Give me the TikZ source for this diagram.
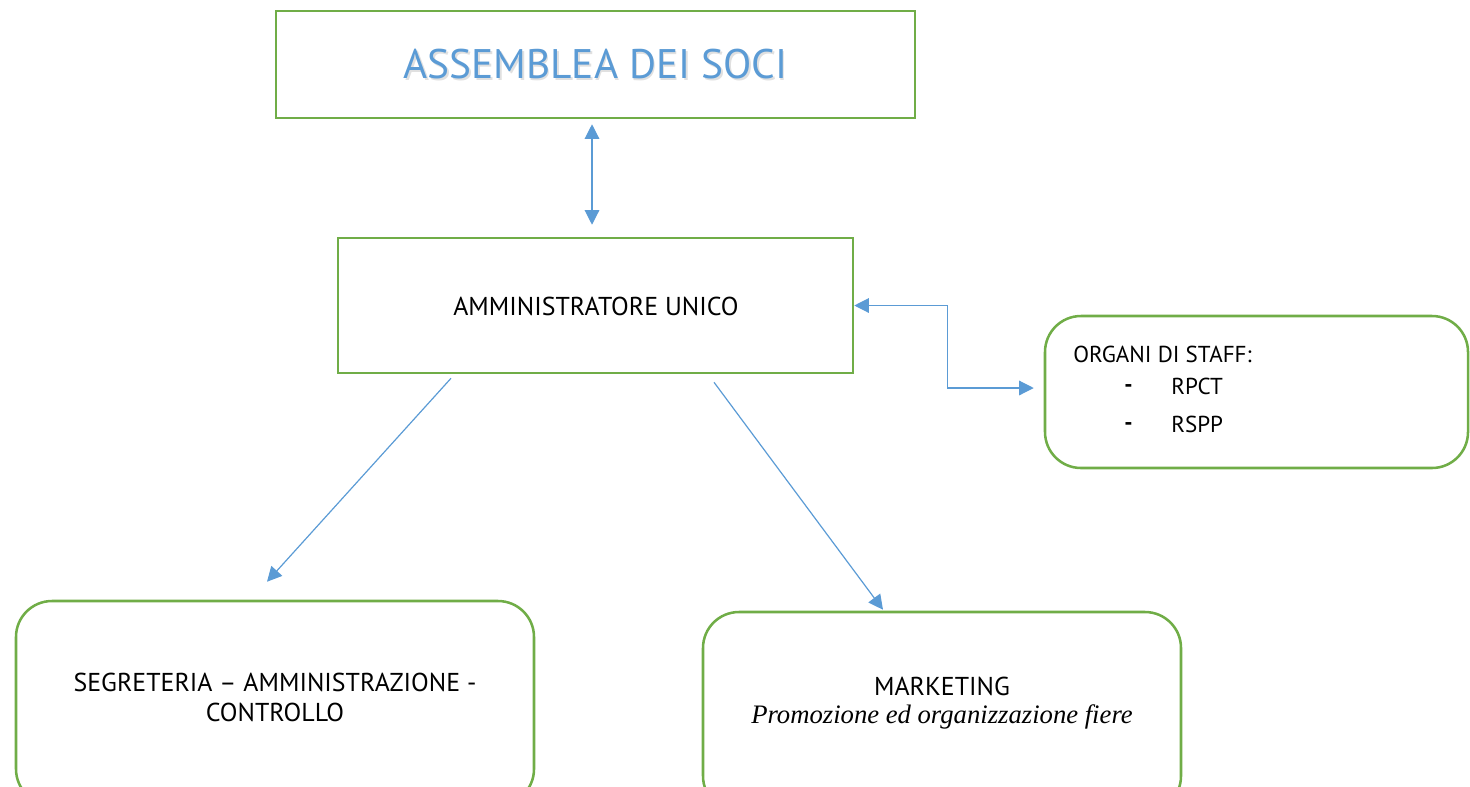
\documentclass[tikz,border=0pt]{standalone}
\usepackage{fontspec}
\setmainfont{PT Sans}
\newfontfamily\serifit{Liberation Serif}
\usetikzlibrary{arrows.meta,calc}
\definecolor{boxgreen}{HTML}{70AD47}
\definecolor{arrblue}{HTML}{5B9BD5}
\tikzset{
  sqbox/.style={draw=boxgreen, line width=1.9pt, rectangle, inner sep=0pt},
  rbox/.style={draw=boxgreen, line width=1.9pt, rectangle, rounded corners=27pt, inner sep=0pt},
  conn/.style={draw=arrblue, line width=0.9pt, -{Triangle[length=11pt,width=11pt]}},
  conn2/.style={draw=arrblue, line width=0.9pt, {Triangle[length=11pt,width=11pt]}-{Triangle[length=11pt,width=11pt]}},
  lbl/.style={inner sep=0pt, font=\fontsize{19.4pt}{22.5pt}\selectfont, align=center},
  slbl/.style={inner sep=0pt, font=\fontsize{17.3pt}{20pt}\selectfont}
}
\begin{document}
\begin{tikzpicture}[x=0.75pt,y=-0.75pt]
\useasboundingbox (0,0) rectangle (1470,786);
\begin{scope}
\clip (0,0) rectangle (1470,786);
\node[sqbox, minimum width=479.25pt, minimum height=80.25pt] (ass) at (595.5,64.5) {};
\node[sqbox, minimum width=386.25pt, minimum height=101.25pt] (amm) at (595.5,305.5) {};
\node[rbox, minimum width=317.25pt, minimum height=114pt] (staff) at (1256.5,392) {};
\node[rbox, minimum width=388.5pt, minimum height=153pt] (seg) at (275,703) {};
\node[rbox, minimum width=358.5pt, minimum height=150pt] (mkt) at (942,712) {};
\end{scope}
\node[inner sep=0pt, text=black!12, font=\fontsize{31pt}{36pt}\selectfont] at (597,66) {ASSEMBLEA DEI SOCI};
\node[inner sep=0pt, text=arrblue, font=\fontsize{31pt}{36pt}\selectfont] (asst) at (595.5,64.5) {ASSEMBLEA DEI SOCI};
\node[lbl] (ammt) at (596,306) {AMMINISTRATORE UNICO};
\node[slbl, anchor=west] (stafft) at (1073,354) {ORGANI DI STAFF:};
\node[slbl, anchor=west, font=\bfseries\fontsize{17.3pt}{20pt}\selectfont] (d1) at (1124,389) {-};
\node[slbl, anchor=west] (r1) at (1171,386) {RPCT};
\node[slbl, anchor=west, font=\bfseries\fontsize{17.3pt}{20pt}\selectfont] (d2) at (1124,427) {-};
\node[slbl, anchor=west] (r2) at (1171,424) {RSPP};
\node[lbl] (segt) at (275,697) {SEGRETERIA -- AMMINISTRAZIONE -\\CONTROLLO};
\node[lbl] (mktt) at (942,686) {MARKETING};
\node[inner sep=0pt, font=\serifit\itshape\fontsize{20pt}{22pt}\selectfont] (mkts) at (942,717) {Promozione ed organizzazione fiere};
\draw[conn2] ($(ass.south)+(-3.5,5)$) -- ($(amm.north)+(-3.5,-12)$);
\draw[conn2] (amm.east) -- ++(93,0) |- ($(staff.west)+(-10,-4)$);
\draw[conn] ($(amm.south)+(-144.5,4)$) -- ($(seg.north)+(-8,-18)$);
\draw[conn] ($(amm.south)+(118.5,8)$) -- ($(mkt.north)+(-59,-1)$);
\end{tikzpicture}
\end{document}
